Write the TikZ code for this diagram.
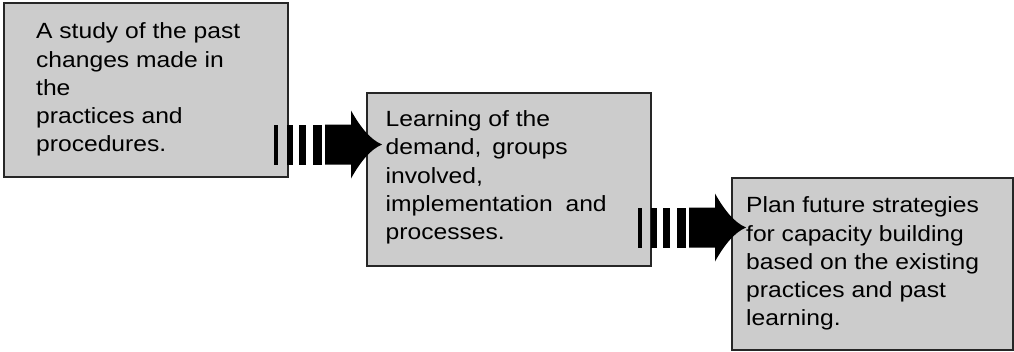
\documentclass[tikz,border=0pt]{standalone}
\usepackage{fontspec}
\usetikzlibrary{calc}
\newfontfamily\boxfont{Liberation Sans}[FakeStretch=1.12]
\begin{document}
\begin{tikzpicture}[x=1pt,y=-1pt,
  box/.style={draw=black!85,line width=1.1pt,fill=black!20,inner sep=0pt},
  boxtext/.style={anchor=north west,inner sep=0pt,align=left,
    font=\boxfont\fontsize{22}{28.2}\selectfont},
  arrowfill/.style={fill=black,draw=none}]
\useasboundingbox (0,0) rectangle (1014,351);
% boxes
\node[box,minimum width=284pt,minimum height=174pt] (b1) at (146,90) {};
\node[box,minimum width=284pt,minimum height=173pt] (b2) at (509,179.5) {};
\node[box,minimum width=281pt,minimum height=172pt] (b3) at (872.5,264) {};
% texts
\node[boxtext] (t1) at ($(b1.north west)+(32.5,19.3)$) {\rule{0pt}{17pt}A study of the past\\changes made in\\the\\practices and\\procedures.};
\node[boxtext] (t2) at ($(b2.north west)+(19,17)$) {\rule{0pt}{17pt}Learning of the\\demand,\hspace{4pt} groups\\involved,\\implementation\hspace{6pt} and\\processes.};
\node[boxtext] (t3) at ($(b3.north west)+(14.5,18.3)$) {\rule{0pt}{17pt}Plan future strategies\\for capacity building\\based on the existing\\practices and past\\learning.};
% arrows
\coordinate (a1) at (274,144.5);
\coordinate (a2) at (638,227.5);
\foreach \a in {a1,a2}{
  \begin{scope}[shift={(\a)}]
    \fill[arrowfill] (0,-20) rectangle (4,20);
    \fill[arrowfill] (13,-20) rectangle (18.5,20);
    \fill[arrowfill] (24.5,-20) rectangle (32,20);
    \fill[arrowfill] (38.5,-20) rectangle (48,20);
    \fill[arrowfill] (51,-20) -- (77,-20) -- (77,-34)
      .. controls (86,-18) and (96,-5) .. (108,0)
      .. controls (96,5) and (86,18) .. (77,34)
      -- (77,20) -- (51,20) -- cycle;
  \end{scope}
}
\end{tikzpicture}
\end{document}
